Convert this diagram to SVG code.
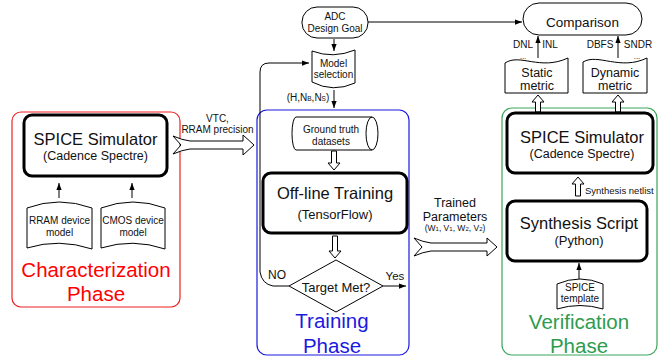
<svg xmlns="http://www.w3.org/2000/svg" width="662" height="357" viewBox="0 0 662 357">
<defs>
<marker id="ah" viewBox="0 0 8 8" refX="8" refY="4" markerWidth="7" markerHeight="7" orient="auto" markerUnits="userSpaceOnUse"><path d="M0,1 L8,4 L0,7 Z" fill="#000"/></marker>
</defs>
<style>
text{font-family:"Liberation Sans",Arial,sans-serif;fill:#111;text-anchor:middle}
.big{font-size:16.5px}
.mid{font-size:12.5px}
.sm{font-size:10px}
.xs{font-size:8.5px}
.phase{font-size:20.5px}
.thick{fill:#fff;stroke:#000;stroke-width:3}
.thin{fill:#fff;stroke:#000;stroke-width:1}
.line{fill:none;stroke:#000;stroke-width:1}
.hollow{fill:#fff;stroke:#000;stroke-width:1;stroke-linejoin:miter}
</style>
<rect width="662" height="357" fill="#fff"/>

<g id="phase-boxes">
<rect x="12" y="112" width="168" height="195" rx="9" fill="none" stroke="#f02020" stroke-width="1.2"/>
<rect x="257" y="110" width="152" height="245" rx="10" fill="none" stroke="#1a1ae0" stroke-width="1.2"/>
<rect x="502" y="108" width="155" height="247" rx="10" fill="none" stroke="#3aa55a" stroke-width="1.2"/>
</g>

<g id="connectors">
<path class="line" d="M59,198 L59,183" marker-end="url(#ah)"/>
<path class="line" d="M132,198 L132,183" marker-end="url(#ah)"/>
<path class="line" d="M334,39 L334,51" marker-end="url(#ah)"/>
<path class="line" d="M334,90 L334,108" marker-end="url(#ah)"/>
<path class="line" d="M289,286 L273,286 Q262,284 260,272 L260,72 Q260,63 269,63 L309,63" marker-end="url(#ah)"/>
<path class="line" d="M368,22 L522,22" marker-end="url(#ah)"/>
<path class="line" d="M538,58 L538,36" marker-end="url(#ah)"/>
<path class="line" d="M618,58 L618,36" marker-end="url(#ah)"/>
<path class="line" d="M383,286 L406,286" marker-end="url(#ah)"/>
<path class="line" d="M579,279 L579,263" marker-end="url(#ah)"/>
<path class="hollow" d="M331.5,151 L336.5,151 L336.5,163 L340,163 L334,170 L328,163 L331.5,163 Z"/>
<path class="hollow" d="M332.5,236 L337.5,236 L337.5,251 L341,251 L335,258 L329,251 L332.5,251 Z"/>
<path class="hollow" d="M535.5,112 L540.5,112 L540.5,102 L544,102 L538,95 L532,102 L535.5,102 Z"/>
<path class="hollow" d="M615.5,112 L620.5,112 L620.5,102 L624,102 L618,95 L612,102 L615.5,102 Z"/>
<path class="hollow" d="M575.5,196 L580.5,196 L580.5,184 L584,184 L578,177 L572,184 L575.5,184 Z"/>
<path class="hollow" d="M173,136 Q182,140 190,141 L243,141 L243,135 L254,145 L243,155 L243,149 L190,149 Q182,150 173,154 L181,145 Z"/>
<path class="hollow" d="M414,238 Q423,242 431,243 L487,243 L487,238 L497,247 L487,256 L487,251 L431,251 Q423,252 414,256 L422,247 Z"/>
<text class="sm" x="217.5" y="122">VTC,</text>
<text class="sm" x="217.5" y="133">RRAM precision</text>
<text class="mid" x="455" y="207">Trained</text>
<text class="mid" x="455" y="221">Parameters</text>
<text class="xs" x="455" y="231">(W<tspan font-size="6">1</tspan>, V<tspan font-size="6">1</tspan>, W<tspan font-size="6">2</tspan>, V<tspan font-size="6">2</tspan>)</text>
<text class="sm" x="308" y="101">(H,N<tspan font-size="6.5">B</tspan>,N<tspan font-size="6.5">S</tspan>)</text>
<text x="277" y="279" style="font-size:12px">NO</text>
<text x="395" y="280" style="font-size:11.5px">Yes</text>
<text class="sm" x="523" y="48">DNL</text>
<text class="sm" x="550" y="48">INL</text>
<text x="523" y="59" style="font-size:8px">...</text>
<text class="sm" x="600" y="48">DBFS</text>
<text class="sm" x="638" y="48">SNDR</text>
<text x="637" y="59" style="font-size:8px">...</text>
<text x="585" y="194" style="font-size:9.5px;text-anchor:start">Synthesis netlist</text>
</g>

<g id="char-spice">
<rect class="thick" x="24" y="115" width="143" height="61" rx="8"/>
<text class="big" x="95.5" y="145">SPICE Simulator</text>
<text class="mid" x="95.5" y="160">(Cadence Spectre)</text>
</g>
<g id="rram-model">
<path class="thin" d="M27,208 Q59,196 92,208 L92,249 Q59,238 27,248 Z"/>
<text class="sm" x="59.5" y="224">RRAM device</text>
<text class="sm" x="59.5" y="236">model</text>
</g>
<g id="cmos-model">
<path class="thin" d="M101,208 Q133,196 165,208 L165,249 Q133,238 101,248 Z"/>
<text class="sm" x="133" y="224">CMOS device</text>
<text class="sm" x="133" y="236">model</text>
</g>
<g id="char-label">
<text class="phase" x="96" y="277" style="fill:#ff0000">Characterization</text>
<text class="phase" x="96" y="301" style="fill:#ff0000">Phase</text>
</g>

<g id="adc-goal">
<rect class="thin" x="302" y="7" width="66" height="31" rx="15"/>
<text class="sm" x="335" y="20">ADC</text>
<text class="sm" x="335" y="32">Design Goal</text>
</g>
<g id="model-selection">
<path class="thin" d="M312,51 Q333,59 355,50 L355,83 Q333,93 312,82 Z"/>
<text class="sm" x="333.5" y="67">Model</text>
<text class="sm" x="333.5" y="78">selection</text>
</g>
<g id="ground-truth">
<path class="thin" d="M296,117 L372,117 A6,16.5 0 0 1 372,150 L296,150 A4,16.5 0 0 1 296,117 Z"/>
<path class="line" d="M372,117 A6,16.5 0 0 0 372,150"/>
<text class="sm" x="331" y="133">Ground truth</text>
<text class="sm" x="331" y="145">datasets</text>
</g>
<g id="offline-training">
<rect class="thick" x="263" y="173" width="144" height="60" rx="8"/>
<text class="big" x="335" y="199">Off-line Training</text>
<text x="335" y="219" style="font-size:13px">(TensorFlow)</text>
</g>
<g id="target-met">
<polygon class="thin" points="289,286 336,260 383,286 336,312"/>
<text x="336" y="292" style="font-size:13px">Target Met?</text>
</g>
<g id="training-label">
<text class="phase" x="332" y="328" style="fill:#1a1ae0">Training</text>
<text class="phase" x="332" y="353" style="fill:#1a1ae0">Phase</text>
</g>

<g id="comparison">
<rect class="thin" x="523" y="3" width="119" height="32" rx="16"/>
<text x="582.5" y="27" style="font-size:13.5px">Comparison</text>
</g>
<g id="static-metric">
<path class="thin" d="M505,63 C520,53 540,71 568,58 L568,93 L505,93 Z"/>
<text class="mid" x="537" y="77">Static</text>
<text class="mid" x="537" y="90">metric</text>
</g>
<g id="dynamic-metric">
<path class="thin" d="M583,62 C598,53 620,71 647,58 L647,93 L583,93 Z"/>
<text class="mid" x="615" y="77">Dynamic</text>
<text class="mid" x="615" y="90">metric</text>
</g>
<g id="verif-spice">
<rect class="thick" x="507" y="113" width="146" height="60" rx="8"/>
<text class="big" x="582" y="143">SPICE Simulator</text>
<text class="mid" x="582" y="158">(Cadence Spectre)</text>
</g>
<g id="synthesis-script">
<rect class="thick" x="507" y="201" width="140" height="60" rx="8"/>
<text class="big" x="579" y="229">Synthesis Script</text>
<text x="579" y="245" style="font-size:13px">(Python)</text>
</g>
<g id="spice-template">
<path class="thin" d="M557,284 Q580,274 603,284 L603,309 Q580,302 557,309 Z"/>
<text class="sm" x="580" y="291">SPICE</text>
<text class="sm" x="580" y="302">template</text>
</g>
<g id="verif-label">
<text class="phase" x="579" y="329" style="fill:#2e9c4e">Verification</text>
<text class="phase" x="579" y="353" style="fill:#2e9c4e">Phase</text>
</g>
</svg>
